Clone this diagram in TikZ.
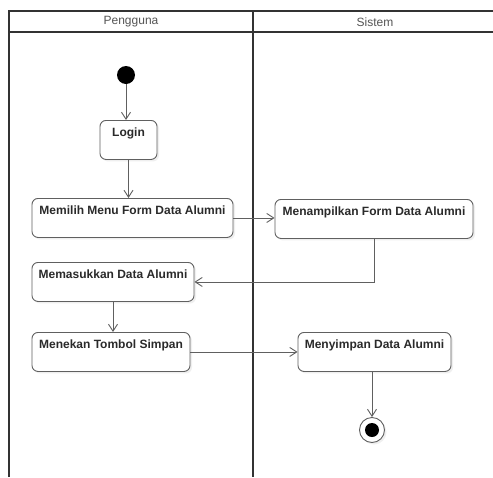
\documentclass[tikz,border=0pt]{standalone}
\usepackage{fontspec}
\setmainfont{Liberation Sans}
\usepackage{xcolor}
\usetikzlibrary{arrows.meta,positioning,shadows}
\definecolor{bingkai}{HTML}{333333}
\definecolor{tepi}{HTML}{606060}
\definecolor{judul}{HTML}{555555}
\definecolor{isi}{HTML}{2A2A2A}
\tikzset{
  aktivitas/.style={rectangle, rounded corners=6pt, draw=tepi, fill=white, line width=0.9pt,
    font=\fontsize{12}{14}\selectfont\bfseries, text=isi, anchor=north,
    inner xsep=4pt, inner ysep=4pt, text height=12pt, text depth=19pt,
    drop shadow={opacity=0.12, shadow xshift=2pt, shadow yshift=-2pt}},
  panah/.style={-{Straight Barb[length=7pt,width=9pt]}, draw=tepi, line width=0.9pt},
  mulai/.style={circle, fill=black, minimum size=18pt, inner sep=0pt},
  akhir/.style={circle, draw=tepi, fill=white, minimum size=25pt, inner sep=0pt, line width=0.9pt,
    drop shadow={opacity=0.12, shadow xshift=2pt, shadow yshift=-2pt}},
  lajur/.style={draw=bingkai, line width=1.3pt},
  kepala/.style={font=\fontsize{12}{14}\selectfont, text=judul},
}

\begin{document}
\begin{tikzpicture}[x=1pt, y=-1pt]
  \useasboundingbox[fill=white] (0,0) rectangle (493,477);
  % lajur
  \draw[lajur] (9,477) -- (9,11) -- (493,11);
  \draw[lajur] (9,32) -- (493,32);
  \draw[lajur] (253,11) -- (253,477);
  \node[kepala] (pengguna) at (131,22) {Pengguna};
  \node[kepala] (sistem) at (375,22) {Sistem};
  % aktivitas
  \node[mulai] (awal) at (126,75) {};
  \node[aktivitas, minimum width=57pt] (login) at (128.5,120) {Login};
  \node[aktivitas, minimum width=201pt] (memilih) at (132.5,198) {Memilih Menu Form Data Alumni};
  \node[aktivitas, minimum width=198pt] (tampil) at (374,199) {Menampilkan Form Data Alumni};
  \node[aktivitas, minimum width=162pt] (masuk) at (113,262) {Memasukkan Data Alumni};
  \node[aktivitas, minimum width=158pt] (tekan) at (111,332) {Menekan Tombol Simpan};
  \node[aktivitas, minimum width=153pt] (simpan) at (374.5,332) {Menyimpan Data Alumni};
  \node[akhir] (selesai) at (372,430) {};
  \fill[black] (selesai) circle (7pt);
  % alur
  \draw[panah] (awal) -- (awal |- login.north);
  \draw[panah] (login.south) -- (login.south |- memilih.north);
  \draw[panah] (memilih.east) -- (memilih.east -| tampil.west);
  \draw[panah] (tampil.south) |- (masuk.east);
  \draw[panah] (masuk.south) -- (masuk.south |- tekan.north);
  \draw[panah] (tekan.east) -- (tekan.east -| simpan.west);
  \draw[panah] (selesai.north |- simpan.south) -- (selesai.north);
\end{tikzpicture}
\end{document}
